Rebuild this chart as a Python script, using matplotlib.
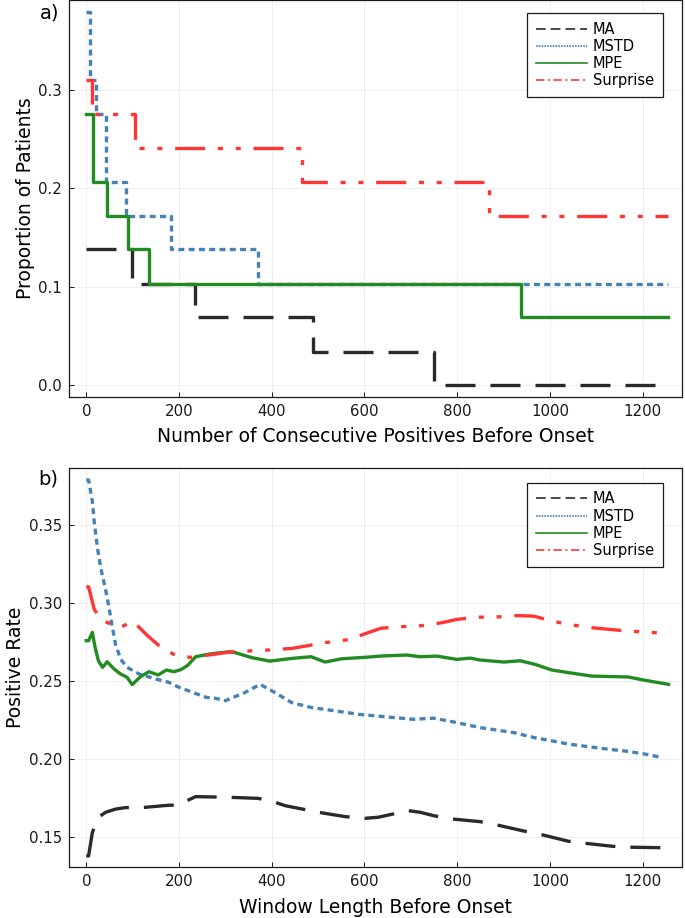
import matplotlib
matplotlib.use("Agg")
import matplotlib.pyplot as plt
from matplotlib.lines import Line2D

plt.rcParams['font.family'] = ['DejaVu Sans']
plt.rcParams['lines.scale_dashes'] = False

# ---------------- data: panel a (step curves) ----------------
series_names = ["MA", "MSTD", "MPE", "Surprise"]

a_ma_x = [0, 98, 234, 488, 751, 1255]
a_ma_y = [0.138, 0.103, 0.069, 0.034, 0.0, 0.0]

a_mstd_x = [0, 8, 20, 42, 86, 182, 371, 1255]
a_mstd_y = [0.379, 0.310, 0.276, 0.207, 0.172, 0.138, 0.103, 0.103]

a_mpe_x = [0, 14, 45, 89, 135, 937, 1255]
a_mpe_y = [0.276, 0.207, 0.172, 0.138, 0.103, 0.069, 0.069]

a_sur_x = [0, 12, 106, 466, 869, 1255]
a_sur_y = [0.310, 0.276, 0.241, 0.207, 0.172, 0.172]

# ---------------- data: panel b (curves) ----------------
b_ma_x = [0, 5, 13, 27, 42, 63, 85, 121, 178, 200, 214, 236, 272, 306, 371, 407,
          429, 465, 500, 558, 601, 630, 662, 695, 720, 749, 788, 849, 885, 943,
          977, 1040, 1076, 1134, 1169, 1234, 1255]
b_ma_y = [0.138, 0.138, 0.153, 0.163, 0.166, 0.168, 0.169, 0.169, 0.1705, 0.1705,
          0.173, 0.176, 0.1758, 0.1756, 0.1749, 0.1724, 0.1702, 0.1681, 0.166,
          0.1632, 0.1621, 0.1628, 0.1649, 0.167, 0.166, 0.1638, 0.1617, 0.160,
          0.1579, 0.154, 0.152, 0.1474, 0.1461, 0.1442, 0.1436, 0.1433, 0.1433]

b_mstd_x = [0, 5, 13, 17, 24, 31, 42, 49, 55, 63, 74, 88, 114, 150, 178, 200,
            229, 258, 279, 300, 342, 375, 407, 443, 486, 537, 587, 634, 705, 749,
            799, 849, 921, 970, 1004, 1040, 1112, 1169, 1205, 1241]
b_mstd_y = [0.379, 0.379, 0.3655, 0.3527, 0.3356, 0.3228, 0.308, 0.2973, 0.2866,
            0.2738, 0.2642, 0.2589, 0.2546, 0.2514, 0.2493, 0.2461, 0.2429, 0.2397,
            0.239, 0.2375, 0.2427, 0.248, 0.2427, 0.2363, 0.2331, 0.231, 0.2288,
            0.2275, 0.2256, 0.2263, 0.2235, 0.2203, 0.2171, 0.2136, 0.2118, 0.2097,
            0.2069, 0.205, 0.2033, 0.2011]

b_mpe_x = [0, 5, 13, 19, 26, 35, 45, 60, 74, 88, 99, 117, 135, 155, 173, 189,
           204, 218, 236, 265, 308, 321, 357, 396, 443, 485, 515, 551, 601, 634,
           691, 720, 756, 799, 828, 849, 900, 936, 968, 1004, 1040, 1090, 1169,
           1205, 1256]
b_mpe_y = [0.276, 0.276, 0.2813, 0.2717, 0.2632, 0.2589, 0.2625, 0.2578, 0.2546,
           0.2525, 0.2478, 0.2529, 0.2561, 0.254, 0.2572, 0.2561, 0.2574, 0.260,
           0.2657, 0.2674, 0.2689, 0.2683, 0.2651, 0.2629, 0.2646, 0.2657, 0.2623,
           0.2644, 0.2653, 0.2661, 0.2668, 0.2657, 0.2661, 0.264, 0.2648, 0.2636,
           0.2623, 0.2631, 0.2608, 0.2572, 0.2555, 0.2533, 0.2527, 0.2506, 0.248]

b_sur_x = [0, 5, 17, 31, 45, 63, 81, 96, 107, 132, 157, 193, 225, 279, 314, 386,
           443, 515, 569, 601, 636, 677, 727, 767, 799, 842, 893, 929, 966, 997,
           1040, 1090, 1148, 1205, 1256]
b_sur_y = [0.3105, 0.3105, 0.2962, 0.2898, 0.2877, 0.2849, 0.2855, 0.2883, 0.2866,
           0.2792, 0.2728, 0.2664, 0.2653, 0.2674, 0.2689, 0.2699, 0.271, 0.2747,
           0.2768, 0.2804, 0.284, 0.2849, 0.2857, 0.2875, 0.2896, 0.291, 0.2913,
           0.2921, 0.2917, 0.2891, 0.2864, 0.2843, 0.2827, 0.2815, 0.2806]

x_ticks = [0, 200, 400, 600, 800, 1000, 1200]
a_yticks = [0.0, 0.1, 0.2, 0.3]
b_yticks = [0.15, 0.20, 0.25, 0.30, 0.35]

# ---------------- styles ----------------
colors = {"MA": "#2a2a2a", "MSTD": "#4682B4", "MPE": "#228B22", "Surprise": "#FF3535"}
LW = 2.4
dashes = {
    "MA": (0, (21.6, 10.8)),
    "MSTD": (0, (4.3, 3.1)),
    "MPE": "-",
    "Surprise": (0, (21.6, 9.2, 3.6, 9.2, 3.6, 9.2)),
}
leg_dashes = {
    "MA": (0, (7.0, 3.6)),
    "MSTD": (0, (1.2, 0.8)),
    "MPE": "-",
    "Surprise": (0, (6.0, 2.6, 1.4, 2.6)),
}

W, H = 685, 918
fig = plt.figure(figsize=(W / 100, H / 100), dpi=100)

def frac(l, t, r, b):
    return [l / W, 1 - b / H, (r - l) / W, (b - t) / H]

ax1 = fig.add_axes(frac(69, 0.5, 682, 396.7))
ax2 = fig.add_axes(frac(69, 468.3, 682, 867.3))

def style_axes(ax, yticks, ylim, xlabel, ylabel, yfmt):
    ax.set_xlim(-37.3, 1285)
    ax.set_ylim(*ylim)
    ax.set_xticks(x_ticks)
    ax.set_yticks(yticks)
    ax.set_yticklabels([yfmt.format(v) for v in yticks])
    ax.grid(True, color="#ebebeb", linewidth=0.6)
    ax.set_axisbelow(True)
    ax.tick_params(direction="in", length=3.6, width=0.7, labelsize=10.8,
                   colors="#1a1a1a", pad=5)
    for s in ax.spines.values():
        s.set_linewidth(0.9)
        s.set_color("#1a1a1a")
    ax.set_xlabel(xlabel, fontsize=13.5, labelpad=6)
    ax.set_ylabel(ylabel, fontsize=13.5, labelpad=2.5)

# panel a
for name, xs, ys in [("MA", a_ma_x, a_ma_y), ("MSTD", a_mstd_x, a_mstd_y),
                     ("MPE", a_mpe_x, a_mpe_y), ("Surprise", a_sur_x, a_sur_y)]:
    ax1.plot(xs, ys, drawstyle="steps-post", color=colors[name], lw=LW,
             linestyle=dashes[name])
style_axes(ax1, a_yticks, (-0.0114, 0.3907),
           "Number of Consecutive Positives Before Onset", "Proportion of Patients", "{:.1f}")

# panel b
for name, xs, ys in [("MA", b_ma_x, b_ma_y), ("MSTD", b_mstd_x, b_mstd_y),
                     ("MPE", b_mpe_x, b_mpe_y), ("Surprise", b_sur_x, b_sur_y)]:
    ax2.plot(xs, ys, color=colors[name], lw=LW, linestyle=dashes[name])
style_axes(ax2, b_yticks, (0.1307, 0.3865),
           "Window Length Before Onset", "Positive Rate", "{:.2f}")

handles = [Line2D([0], [0], color=colors[n], lw=1.2, linestyle=leg_dashes[n])
           for n in series_names]
for ax, top_px, ax_top, ax_h in [(ax1, 13, 0.5, 396.2), (ax2, 482.7, 468.3, 399.0)]:
    ax.legend(handles, series_names, loc="upper right",
              bbox_to_anchor=((663 - 69) / 613, 1 - (top_px - ax_top) / ax_h),
              borderaxespad=0, fontsize=10.5, frameon=True, fancybox=False,
              edgecolor="#1a1a1a", framealpha=1, handlelength=3.5,
              handletextpad=0.45, labelspacing=0.15, borderpad=0.6)
    ax.get_legend().get_frame().set_linewidth(0.9)

fig.text(50 / W, 1 - 13 / H, "a)", fontsize=14, ha="center", va="center")
fig.text(48 / W, 1 - 479 / H, "b)", fontsize=14, ha="center", va="center")

fig.savefig("out.png", dpi=100)
